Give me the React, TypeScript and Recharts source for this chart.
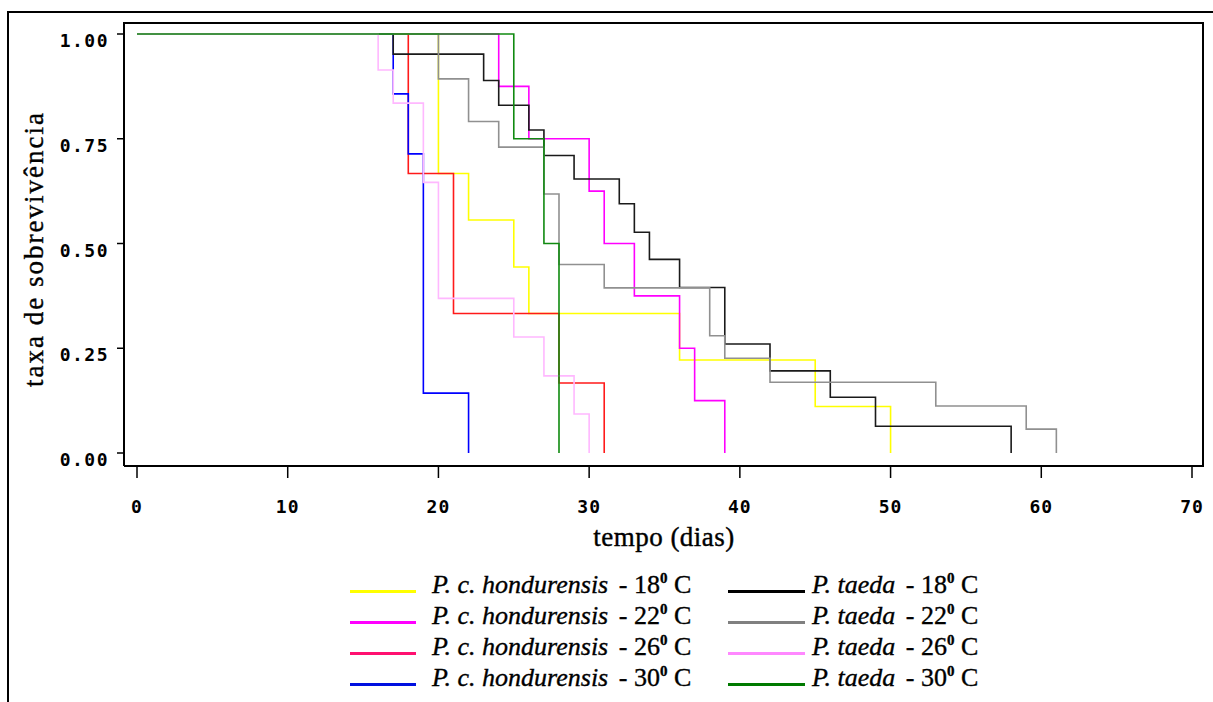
import { LineChart, Line, XAxis, YAxis, Label, CartesianGrid } from "recharts";

type Pt = { dia: number; taxa: number };

// curvas de sobrevivência (Kaplan-Meier)
const hond18: Pt[] = [
  { dia: 0, taxa: 1 }, { dia: 20, taxa: 0.667 }, { dia: 22, taxa: 0.556 }, { dia: 25, taxa: 0.444 },
  { dia: 26, taxa: 0.333 }, { dia: 36, taxa: 0.222 }, { dia: 45, taxa: 0.111 }, { dia: 50, taxa: 0 },
];
const hond22: Pt[] = [
  { dia: 0, taxa: 1 }, { dia: 24, taxa: 0.875 }, { dia: 26, taxa: 0.75 }, { dia: 30, taxa: 0.625 },
  { dia: 31, taxa: 0.5 }, { dia: 33, taxa: 0.375 }, { dia: 36, taxa: 0.25 }, { dia: 37, taxa: 0.125 },
  { dia: 39, taxa: 0 },
];
const hond26: Pt[] = [
  { dia: 0, taxa: 1 }, { dia: 18, taxa: 0.667 }, { dia: 21, taxa: 0.333 }, { dia: 28, taxa: 0.167 },
  { dia: 31, taxa: 0 },
];
const hond30: Pt[] = [
  { dia: 0, taxa: 1 }, { dia: 17, taxa: 0.857 }, { dia: 18, taxa: 0.714 }, { dia: 19, taxa: 0.143 },
  { dia: 22, taxa: 0 },
];
const taeda18: Pt[] = [
  { dia: 0, taxa: 1 }, { dia: 17, taxa: 0.952 }, { dia: 23, taxa: 0.889 }, { dia: 24, taxa: 0.83 },
  { dia: 26, taxa: 0.771 }, { dia: 27, taxa: 0.71 }, { dia: 29, taxa: 0.654 }, { dia: 32, taxa: 0.595 },
  { dia: 33, taxa: 0.527 }, { dia: 34, taxa: 0.462 }, { dia: 36, taxa: 0.395 }, { dia: 39, taxa: 0.26 },
  { dia: 42, taxa: 0.196 }, { dia: 46, taxa: 0.133 }, { dia: 49, taxa: 0.064 }, { dia: 58, taxa: 0 },
];
const taeda22: Pt[] = [
  { dia: 0, taxa: 1 }, { dia: 20, taxa: 0.893 }, { dia: 22, taxa: 0.791 }, { dia: 24, taxa: 0.73 },
  { dia: 27, taxa: 0.618 }, { dia: 28, taxa: 0.45 }, { dia: 31, taxa: 0.394 }, { dia: 38, taxa: 0.28 },
  { dia: 39, taxa: 0.226 }, { dia: 42, taxa: 0.169 }, { dia: 53, taxa: 0.112 }, { dia: 59, taxa: 0.057 },
  { dia: 61, taxa: 0 },
];
const taeda26: Pt[] = [
  { dia: 0, taxa: 1 }, { dia: 16, taxa: 0.914 }, { dia: 17, taxa: 0.835 }, { dia: 19, taxa: 0.646 },
  { dia: 20, taxa: 0.369 }, { dia: 25, taxa: 0.277 }, { dia: 27, taxa: 0.184 }, { dia: 29, taxa: 0.093 },
  { dia: 30, taxa: 0 },
];
const taeda30: Pt[] = [
  { dia: 0, taxa: 1 }, { dia: 25, taxa: 0.75 }, { dia: 27, taxa: 0.5 }, { dia: 28, taxa: 0 },
];

const xTicks = [0, 10, 20, 30, 40, 50, 60, 70];
const yTicks = [0, 0.25, 0.5, 0.75, 1];

const series = [
  { key: "hond18", data: hond18, especie: "P. c. hondurensis", temp: "18", color: "#ffff00", legend: "#ffff00" },
  { key: "hond22", data: hond22, especie: "P. c. hondurensis", temp: "22", color: "#ff00ff", legend: "#ff00ff" },
  { key: "hond26", data: hond26, especie: "P. c. hondurensis", temp: "26", color: "#ff1a1a", legend: "#ff1070" },
  { key: "hond30", data: hond30, especie: "P. c. hondurensis", temp: "30", color: "#0000ff", legend: "#0010e0" },
  { key: "taeda18", data: taeda18, especie: "P. taeda", temp: "18", color: "#1a1a1a", legend: "#000000" },
  { key: "taeda22", data: taeda22, especie: "P. taeda", temp: "22", color: "#909090", legend: "#808080" },
  { key: "taeda26", data: taeda26, especie: "P. taeda", temp: "26", color: "#ffb8ff", legend: "#ff88ff" },
  { key: "taeda30", data: taeda30, especie: "P. taeda", temp: "30", color: "#108a10", legend: "#007a00" },
];

const tickFont = { fontFamily: "DejaVu Sans Mono", fontWeight: "bold", fontSize: 18, fill: "#000" };
const serif = "'Liberation Serif', 'Times New Roman', serif";

function YTick({ x, y, payload }: any) {
  return (
    <text x={x} y={y + 13} textAnchor="end" letterSpacing={1.5} {...tickFont}>
      {Number(payload.value).toFixed(2)}
    </text>
  );
}

function XTick({ x, y, payload }: any) {
  return (
    <text x={x} y={y + 13} textAnchor="middle" letterSpacing={1} {...tickFont}>
      {payload.value}
    </text>
  );
}

function LegendItem({ s, left, top, lineW, gap }: any) {
  return (
    <div style={{ position: "absolute", left, top, height: 31, display: "flex", whiteSpace: "pre",
      fontFamily: serif, fontSize: 26, lineHeight: "31px", color: "#000", WebkitTextStroke: "0.35px #000" }}>
      <span style={{ display: "inline-block", width: lineW, height: 3, marginTop: 22, marginRight: gap, background: s.legend }} />
      <span style={{ position: "relative", top: -5 }}>
        <i>{s.especie}</i>
        <span style={{ marginLeft: 4 }}>{" - " + s.temp}</span>
        <sup style={{ fontSize: 15, fontWeight: "bold", verticalAlign: "10px" }}>0</sup>{" C"}
      </span>
    </div>
  );
}

export default function App() {
  return (
    <div style={{ position: "absolute", left: 0, top: 0, width: 1213, height: 702, background: "#fff", overflow: "hidden" }}>
      <div style={{ position: "absolute", left: 7, top: 11, width: 1210, height: 700, borderTop: "2px solid #000", borderLeft: "2px solid #000" }} />
      <div style={{ position: "absolute", left: 0, top: 0 }}>
        <LineChart width={1213} height={702} margin={{ top: 22, right: 9, bottom: 176, left: 24 }}>
          {/* top and right edges of the plot frame */}
          <CartesianGrid horizontalPoints={[23]} verticalPoints={[1203]} stroke="#000" strokeWidth={2} fill="none" />
          <XAxis
            dataKey="dia"
            type="number"
            domain={[0, 70]}
            ticks={xTicks}
            padding={{ left: 13, right: 12 }}
            height={60}
            tickSize={12}
            tickMargin={22}
            tick={<XTick />}
            axisLine={{ stroke: "#000", strokeWidth: 2 }}
            tickLine={{ stroke: "#000", strokeWidth: 1.5 }}
          >
            <Label
              content={({ viewBox }: any) => (
                <text x={viewBox.x + viewBox.width / 2} y={546} textAnchor="middle"
                  fontFamily={serif} fontSize={27} letterSpacing={0.5} fill="#000" stroke="#000" strokeWidth={0.4}>
                  tempo (dias)
                </text>
              )}
            />
          </XAxis>
          <YAxis
            type="number"
            domain={[0, 1]}
            ticks={yTicks}
            padding={{ top: 12, bottom: 13 }}
            width={100}
            tickSize={7}
            tickMargin={8}
            tick={<YTick />}
            axisLine={{ stroke: "#000", strokeWidth: 2 }}
            tickLine={{ stroke: "#000", strokeWidth: 1.5 }}
          >
            <Label
              content={({ viewBox }: any) => {
                const cx = viewBox.x + 19;
                const cy = viewBox.y + viewBox.height / 2 + 5;
                return (
                  <text x={cx} y={cy} transform={`rotate(-90 ${cx} ${cy})`} textAnchor="middle"
                    fontFamily={serif} fontSize={27} letterSpacing={2} fill="#000" stroke="#000" strokeWidth={0.4}>
                    taxa de sobrevivência
                  </text>
                );
              }}
            />
          </YAxis>
          {series.map((s) => (
            <Line
              key={s.key}
              data={s.data}
              dataKey="taxa"
              type="stepAfter"
              stroke={s.color}
              strokeWidth={1.6}
              dot={false}
              activeDot={false}
              isAnimationActive={false}
            />
          ))}
        </LineChart>
      </div>
      {series.map((s, i) => {
        const col = i < 4 ? 0 : 1;
        const row = i % 4;
        return (
          <LegendItem
            key={s.key}
            s={s}
            left={col === 0 ? 350 : 728}
            top={568 + row * 31}
            lineW={col === 0 ? 66 : 77}
            gap={col === 0 ? 16 : 7}
          />
        );
      })}
    </div>
  );
}
